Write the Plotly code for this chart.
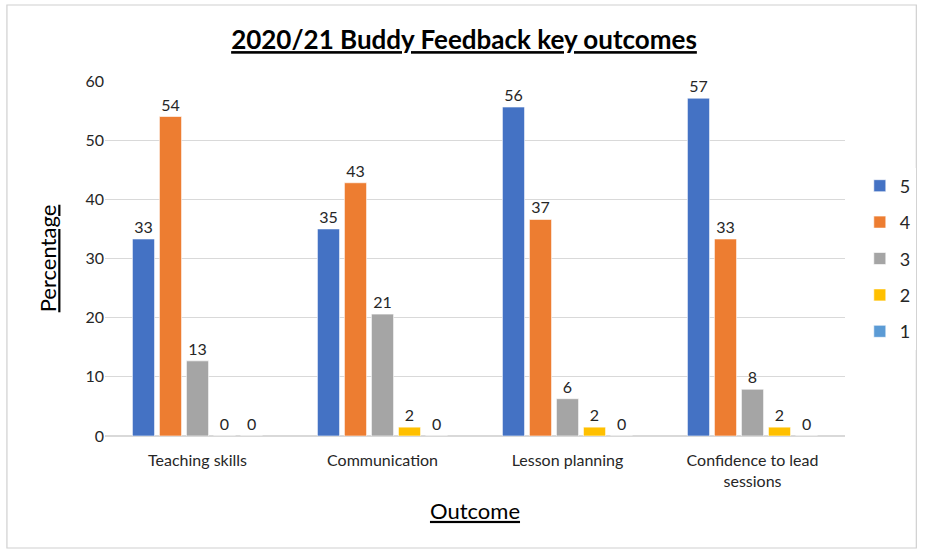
import plotly.graph_objects as go

categories = ["Teaching skills", "Communication", "Lesson planning", "Confidence to lead<br>sessions"]
series_names = ["5", "4", "3", "2", "1"]
values = {
    "5": [33.3, 35.0, 55.6, 57.1],
    "4": [54.0, 42.8, 36.6, 33.3],
    "3": [12.7, 20.6, 6.3, 7.9],
    "2": [0.0, 1.5, 1.5, 1.5],
    "1": [0.0, 0.0, 0.0, 0.0],
}
colors = {"5": "#4472C4", "4": "#ED7D31", "3": "#A5A5A5", "2": "#FFC000", "1": "#5B9BD5"}

FONT = "Lato, 'Open Sans', sans-serif"
fig = go.Figure()
for s in series_names:
    fig.add_trace(go.Bar(
        name=s, x=categories, y=values[s],
        marker=dict(color=colors[s], line=dict(color="white", width=0.6)),
        text=[f"{v:.0f}" for v in values[s]], textposition="outside",
        textfont=dict(size=16, color="#262626", family=FONT),
        cliponaxis=False, legendgroup=s,
    ))

W, H = 928, 552
L, R, T, B = 105, 76, 81, 116
fig.update_layout(
    width=W, height=H,
    margin=dict(l=L, r=R, t=T, b=B),
    paper_bgcolor="white", plot_bgcolor="white",
    font=dict(family=FONT, color="#262626"),
    barmode="group", bargap=0.27, bargroupgap=0.18,
    title=dict(text="<b><u>2020/21 Buddy Feedback key outcomes</u></b>",
               x=0.5, xanchor="center", y=1 - 40 / H, yanchor="middle",
               font=dict(size=26, color="black", family=FONT)),
    xaxis=dict(title=dict(text="<u>Outcome</u>", font=dict(size=22, color="black"), standoff=14),
               tickfont=dict(size=16, color="#262626"), showline=True, linecolor="#d9d9d9",
               ticks="", ticklabelstandoff=10),
    yaxis=dict(title=dict(text="<u>Percentage</u>", font=dict(size=22, color="black"), standoff=22),
               range=[0, 60], dtick=10, tickfont=dict(size=16, color="#262626"),
               gridcolor="#d9d9d9", zeroline=True, zerolinecolor="#d9d9d9", ticks=""),
    legend=dict(x=1.02, xanchor="left", y=0.5, yanchor="middle",
                font=dict(size=18, color="#262626"), tracegroupgap=10,
                itemwidth=30),
    showlegend=True,
)
pw = W - L - R
ph = H - T - B
fig.add_shape(type="rect", xref="paper", yref="paper",
              x0=(6 - L) / pw, x1=(924 - L) / pw,
              y0=(H - B - 548) / ph, y1=(H - B - 5) / ph,
              line=dict(color="#d0d0d0", width=1.2), fillcolor="rgba(0,0,0,0)", layer="below")
fig.write_html("out.html")
